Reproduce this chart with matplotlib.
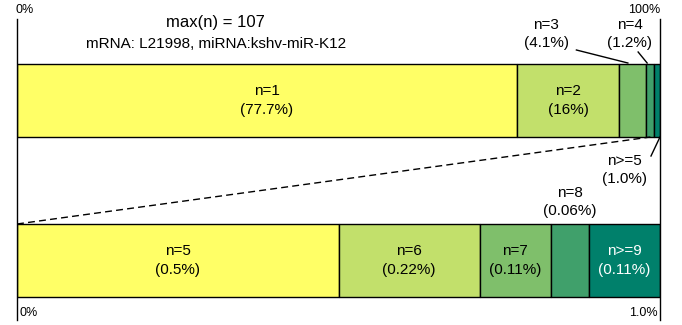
import matplotlib
matplotlib.use("Agg")
import matplotlib.pyplot as plt
import numpy as np

plt.rcParams['font.family'] = ['Liberation Sans', 'DejaVu Sans']

# Data
top_labels = ["n=1", "n=2", "n=3", "n=4", "n>=5"]
top_values = [77.7, 16.0, 4.1, 1.2, 1.0]          # percent of total
bottom_labels = ["n=5", "n=6", "n=7", "n=8", "n>=9"]
bottom_values = [0.5, 0.22, 0.11, 0.06, 0.11]     # percent of total (0..1.0%)
colors = ["#ffff66", "#c2e06b", "#7fbf6b", "#40a06b", "#00806b"]
title_lines = ["max(n) = 107", "mRNA: L21998, miRNA:kshv-miR-K12"]

W, H = 682, 325
fig = plt.figure(figsize=(W / 100, H / 100), dpi=100)
x0, x1 = 17, 660
ax = fig.add_axes([x0 / W, 0, (x1 - x0) / W, 1])
ax.set_xlim(0, 100)
ax.set_ylim(H, 0)
ax.axis("off")

# y layout (pixel units)
top_y, bot_y, bh = 100.5, 260.5, 73

top_left = np.concatenate([[0], np.cumsum(top_values)[:-1]])
ax.barh([top_y] * len(top_values), top_values, left=top_left, height=bh,
        color=colors, edgecolor="black", linewidth=1)

scale = 100.0 / sum(bottom_values)
bvals = np.array(bottom_values) * scale
bot_left = np.concatenate([[0], np.cumsum(bvals)[:-1]])
ax.barh([bot_y] * len(bvals), bvals, left=bot_left, height=bh,
        color=colors, edgecolor="black", linewidth=1)

fs = 11
ls = 1.4
# labels inside top bar
for i in range(2):
    c = top_left[i] + top_values[i] / 2
    ax.text(c, top_y, f"{top_labels[i]}\n({top_values[i]:g}%)", ha="center", va="center",
            fontsize=fs, linespacing=ls)

# n=3 and n=4 labels above with leader lines
for i, tx in zip([2, 3], [82.3, 95.3]):
    ax.text(tx, 34, f"{top_labels[i]}\n({top_values[i]:g}%)", ha="center", va="center",
            fontsize=fs, linespacing=ls)
ax.plot([87.0, 95.0], [50, 63], color="black", lw=1, clip_on=False)
ax.plot([96.6, 98.0], [52, 63], color="black", lw=1, clip_on=False)

# n>=5 label below top bar with leader
ax.text(94.5, 170, f"{top_labels[4]}\n({top_values[4]:.1f}%)", ha="center", va="center",
        fontsize=fs, linespacing=ls)
ax.plot([100, 98.6], [137, 156], color="black", lw=1, clip_on=False)

# dashed zoom line
ax.plot([0, top_left[4] - 0.5], [bot_y - bh / 2, top_y + bh / 2], color="black", lw=1,
        dashes=(5, 3))

# bottom bar labels
bot_txt = ["0.5%", "0.22%", "0.11%", "0.06%", "0.11%"]
for i in range(len(bvals)):
    c = bot_left[i] + bvals[i] / 2
    if i == 3:
        ax.text(c, 202, f"{bottom_labels[i]}\n({bot_txt[i]})", ha="center", va="center",
                fontsize=fs, linespacing=ls)
    else:
        ax.text(c, bot_y, f"{bottom_labels[i]}\n({bot_txt[i]})", ha="center", va="center",
                fontsize=fs, linespacing=ls,
                color="white" if i == 4 else "black")

# vertical reference lines
ax.plot([0, 0], [19, 320], color="black", lw=1, clip_on=False)
ax.plot([100, 100], [19, 320], color="black", lw=1, clip_on=False)

# corner labels
sfs = 9
ax.text(-0.2, 10, "0%", ha="left", va="center", fontsize=sfs)
ax.text(100.1, 10, "100%", ha="right", va="center", fontsize=sfs, clip_on=False)
ax.text(0.4, 313, "0%", ha="left", va="center", fontsize=sfs)
ax.text(99.6, 313, "1.0%", ha="right", va="center", fontsize=sfs)

# title
ax.text(30.9, 22, title_lines[0], ha="center", va="center", fontsize=12)
ax.text(30.9, 44, title_lines[1], ha="center", va="center", fontsize=11)

fig.savefig("out.png", dpi=100)
